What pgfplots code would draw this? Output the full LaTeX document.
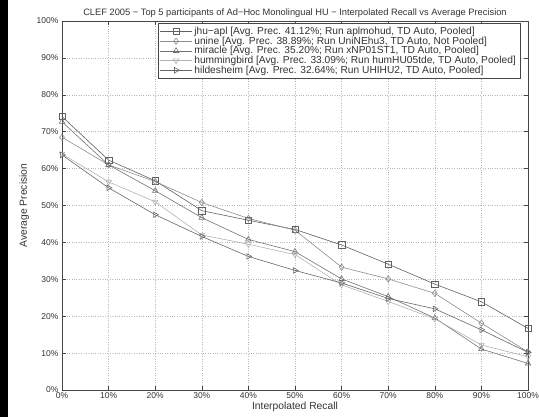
\documentclass[border=0pt]{standalone}
\usepackage{fontspec}
\setmainfont{Liberation Sans}
\usepackage{pgfplots}
\pgfplotsset{compat=1.18}
\definecolor{cA}{gray}{0.38}
\definecolor{cB}{gray}{0.55}
\definecolor{cC}{gray}{0.45}
\definecolor{cD}{gray}{0.70}
\definecolor{cE}{gray}{0.40}
\definecolor{txt}{gray}{0.2}
\begin{document}
\begin{tikzpicture}
\useasboundingbox (-62bp,-27bp) rectangle (477bp,390bp);
\fill[black] (-62bp,-27bp) rectangle (-54bp,390bp);
\begin{axis}[
  at={(0,0)}, anchor=south west,
  scale only axis, width=466bp, height=369bp,
  xmin=0, xmax=100, ymin=0, ymax=100,
  xtick={0,10,...,100}, ytick={0,10,...,100},
  xticklabels={0\%,10\%,20\%,30\%,40\%,50\%,60\%,70\%,80\%,90\%,100\%},
  yticklabels={0\%,10\%,20\%,30\%,40\%,50\%,60\%,70\%,80\%,90\%,100\%},
  tick align=inside, major tick length=4bp,
  grid=major, grid style={dotted, gray!55, line width=0.5pt},
  axis line style={gray!55!black, line width=0.5pt},
  every tick/.style={gray!55!black},
  ticklabel style={font=\fontsize{8.5bp}{10bp}\selectfont, text=txt},
  xticklabel style={yshift=1bp},
  label style={font=\fontsize{10.3bp}{12bp}\selectfont, text=txt},
  xlabel={Interpolated Recall},
  ylabel={Average Precision},
  xlabel style={yshift=3bp},
  ylabel style={yshift=1bp},
  title={CLEF 2005 − Top 5 participants of Ad−Hoc Monolingual HU − Interpolated Recall vs Average Precision},
  title style={font=\fontsize{9.3bp}{11bp}\selectfont, text=txt, yshift=-6bp},
  legend style={at={(0.983,0.995)}, anchor=north east, draw=gray!55!black, line width=0.5pt,
    font=\fontsize{10.2bp}{12bp}\selectfont, text=txt, row sep=-3.2bp, inner sep=2bp},
  legend cell align=left,
  legend image code/.code={\draw[mark repeat=2,mark phase=2,#1] plot coordinates {(0bp,0bp) (16bp,0bp) (32bp,0bp)};},
  every axis plot/.append style={line width=0.6pt, mark size=3.2bp, mark options={solid, fill=none}},
]
\addplot[cA, mark=square] coordinates {(0,74.1) (10,62.3) (20,56.7) (30,48.6) (40,46.0) (50,43.5) (60,39.3) (70,34.1) (80,28.7) (90,23.9) (100,16.7)};
\addlegendentry{jhu−apl [Avg. Prec. 41.12\%; Run aplmohud, TD Auto, Pooled]}
\addplot[cB, mark=diamond] coordinates {(0,68.5) (10,61.0) (20,56.5) (30,50.8) (40,46.5) (50,43.3) (60,33.3) (70,30.1) (80,26.2) (90,18.1) (100,10.3)};
\addlegendentry{unine [Avg. Prec. 38.89\%; Run UniNEhu3, TD Auto, Not Pooled]}
\addplot[cC, mark=triangle] coordinates {(0,72.7) (10,61.0) (20,54.0) (30,46.7) (40,40.8) (50,37.5) (60,30.1) (70,25.3) (80,19.5) (90,11.1) (100,7.2)};
\addlegendentry{miracle [Avg. Prec. 35.20\%; Run xNP01ST1, TD Auto, Pooled]}
\addplot[cD, mark=triangle, mark options={rotate=180}] coordinates {(0,64.0) (10,56.4) (20,51.0) (30,42.0) (40,39.5) (50,36.7) (60,28.5) (70,24.0) (80,19.3) (90,12.2) (100,9.0)};
\addlegendentry{hummingbird [Avg. Prec. 33.09\%; Run humHU05tde, TD Auto, Pooled]}
\addplot[cE, mark=triangle, mark options={rotate=-90}] coordinates {(0,63.7) (10,54.8) (20,47.5) (30,41.6) (40,36.2) (50,32.4) (60,29.0) (70,24.8) (80,22.0) (90,16.3) (100,10.2)};
\addlegendentry{hildesheim [Avg. Prec. 32.64\%; Run UHIHU2, TD Auto, Pooled]}
\end{axis}
\end{tikzpicture}
\end{document}
